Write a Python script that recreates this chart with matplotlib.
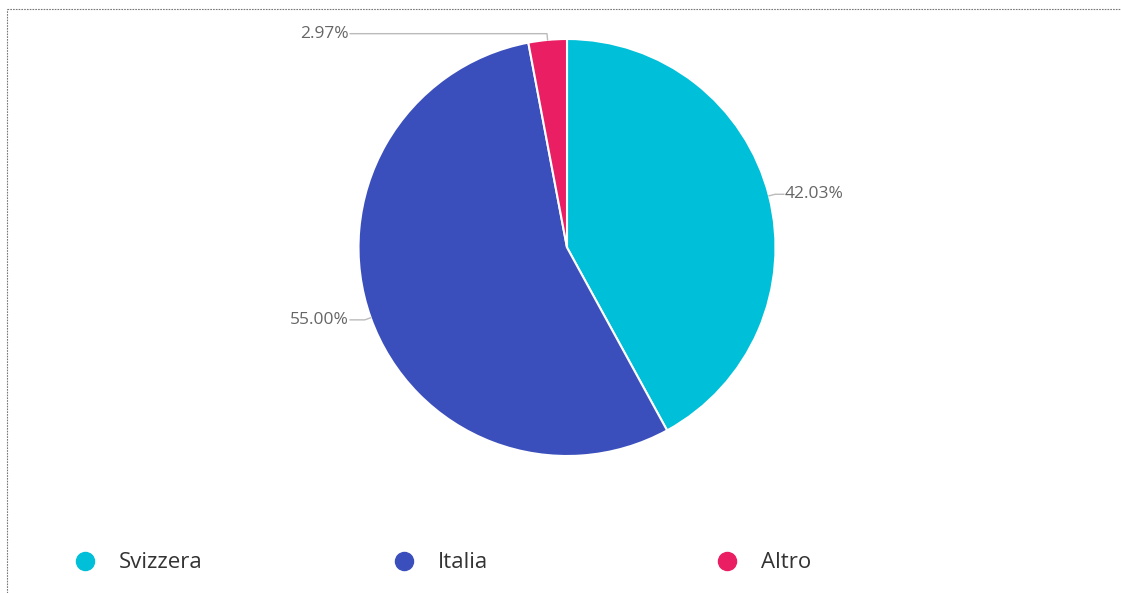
import numpy as np
import matplotlib
matplotlib.use("Agg")
import matplotlib.pyplot as plt
from matplotlib.lines import Line2D

labels = ["Svizzera", "Italia", "Altro"]
shares = [42.03, 55.00, 2.97]
colors = ["#00BFD8", "#3B4FBC", "#E91E63"]

W, H = 1121, 593
plt.rcParams["font.family"] = ["Open Sans", "DejaVu Sans"]

fig = plt.figure(figsize=(W / 100, H / 100), dpi=100)

# pie axes placed in pixel terms: centre (567, 247), radius 208
cx, cy, r = 567, 247.5, 208.5
ax = fig.add_axes([(cx - r) / W, (H - cy - r) / H, 2 * r / W, 2 * r / H])
wedges, _ = ax.pie(shares, colors=colors, startangle=90, counterclock=False,
                   radius=1.0,
                   wedgeprops=dict(edgecolor="white", linewidth=1.5))
ax.set_xlim(-1, 1)
ax.set_ylim(-1, 1)
ax.set_aspect("equal")
ax.axis("off")

# percentage labels with leader lines
for w, val in zip(wedges, shares):
    ang = np.deg2rad((w.theta1 + w.theta2) / 2)
    x0, y0 = np.cos(ang), np.sin(ang)
    xe, ye = 1.03 * x0, 1.03 * y0
    side = 1 if x0 > 0 else -1
    xt = 1.04 * side
    ax.plot([x0, xe, xt], [y0, ye, ye], color="#bbbbbb", lw=1, clip_on=False)
    ax.text(xt + 0.005 * side, ye, f"{val:.2f}%", ha="left" if side > 0 else "right",
            va="center", fontsize=12.5, color="#666666")

# legend row along the bottom
dot_x = [85, 404, 727]
for lab, col, x in zip(labels, colors, dot_x):
    fig.add_artist(Line2D([x / W], [1 - 561 / H], marker="o", markersize=13,
                          color=col, linestyle="none"))
    fig.text((x + 34) / W, 1 - 562 / H, lab, fontsize=16, color="#333333",
             ha="left", va="center")

# dotted frame on top and left
fig.add_artist(Line2D([7 / W, 1], [1 - 9 / H, 1 - 9 / H], color="#777777",
                      lw=0.8, linestyle=(0, (1.5, 1))))
fig.add_artist(Line2D([7 / W, 7 / W], [0, 1 - 9 / H], color="#777777",
                      lw=0.8, linestyle=(0, (1.5, 1))))

fig.savefig("out.png", dpi=100, facecolor="white")
